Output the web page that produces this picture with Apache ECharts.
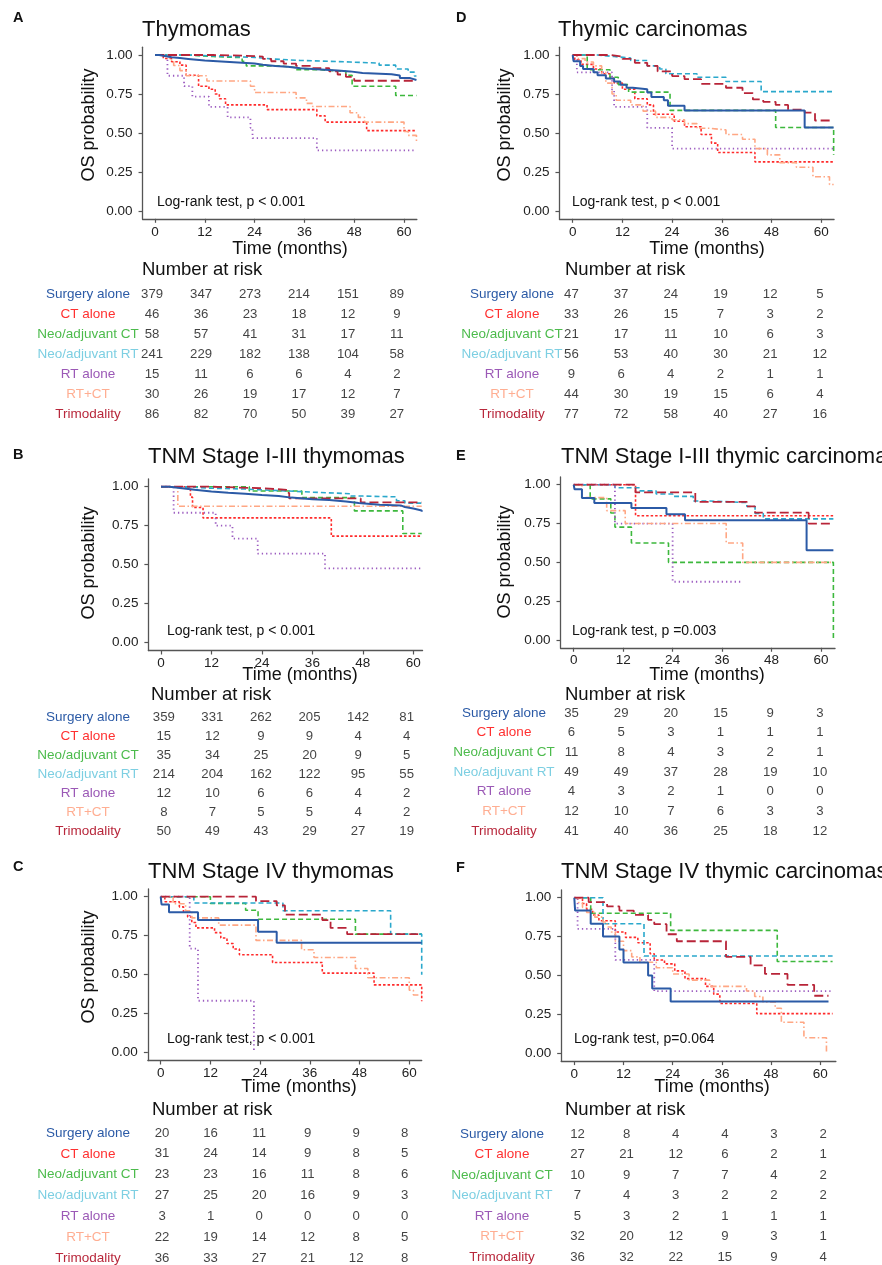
<!DOCTYPE html>
<html><head><meta charset="utf-8">
<script src="https://cdn.jsdelivr.net/npm/echarts@6/dist/echarts.min.js"></script>
<style>html,body{margin:0;padding:0;background:#fff}#c{width:882px;height:1265px}</style>
</head><body><div id="c"></div>
<script>
// ---------- data ----------
const groups = ['Surgery alone','CT alone','Neo/adjuvant CT','Neo/adjuvant RT','RT alone','RT+CT','Trimodality'];
const timeTicks = [0,12,24,36,48,60];
const probTicks = [0,0.25,0.5,0.75,1];

// Panel A: Thymomas
const A_surg = [[0,1],[1,0.995],[2,0.99],[3,0.985],[4,0.98],[6,0.975],[8,0.97],[10,0.965],[12,0.96],[15,0.955],[18,0.95],[21,0.945],[24,0.938],[26,0.93],[29,0.924],[32,0.915],[35,0.91],[38,0.905],[41,0.9],[44,0.895],[47,0.885],[50,0.877],[57,0.868],[59,0.852],[61.5,0.84],[63,0.84]];
const A_ct = [[0,1],[2,0.978],[4,0.957],[6,0.935],[7.5,0.87],[10.5,0.8],[13,0.78],[14.5,0.75],[15.5,0.72],[17,0.68],[27,0.65],[39,0.61],[41,0.57],[51,0.515],[63,0.515]];
const A_neoct = [[0,1],[8,0.99],[14,0.983],[21,0.96],[22,0.93],[30,0.92],[34,0.905],[40,0.895],[46,0.87],[47.5,0.8],[58,0.74],[63,0.74]];
const A_neort = [[0,1],[8,0.99],[18,0.985],[24,0.975],[28,0.965],[35,0.955],[47,0.948],[54,0.935],[58,0.91],[61,0.89],[62.5,0.865],[63,0.865]];
const A_rt = [[0,1],[3,0.867],[7,0.8],[9,0.733],[13,0.667],[17.5,0.6],[23,0.533],[23.5,0.467],[39,0.389],[63,0.389]];
const A_rtct = [[0,1],[3.5,0.967],[4.5,0.933],[6,0.9],[7.5,0.867],[12.5,0.833],[23,0.8],[24,0.76],[34,0.725],[36.5,0.69],[38,0.67],[47,0.63],[49,0.6],[50.5,0.57],[60,0.51],[61,0.485],[63,0.44]];
const A_tri = [[0,1],[14,0.995],[22,0.99],[26,0.975],[28,0.96],[31,0.945],[34,0.93],[38,0.915],[42,0.895],[44,0.875],[46,0.86],[48,0.835],[63,0.835]];
const riskA = [[379,347,273,214,151,89],[46,36,23,18,12,9],[58,57,41,31,17,11],[241,229,182,138,104,58],[15,11,6,6,4,2],[30,26,19,17,12,7],[86,82,70,50,39,27]];

// Panel D: Thymic carcinomas
const D_surg = [[0,1],[0.2,0.96],[1.8,0.93],[2.5,0.91],[5,0.89],[6,0.87],[8,0.85],[10,0.83],[11.5,0.81],[13,0.79],[14.5,0.78],[18,0.76],[19,0.73],[22,0.71],[23,0.675],[27,0.645],[56,0.535],[63,0.535]];
const D_ct = [[0,1],[0.5,0.97],[2,0.94],[5,0.91],[7,0.88],[9,0.85],[10,0.82],[12,0.78],[15,0.72],[18,0.68],[19.5,0.62],[24.5,0.575],[27,0.54],[31,0.49],[33.5,0.435],[35,0.375],[44,0.315],[63,0.315]];
const D_neoct = [[0,1],[3.5,0.905],[9,0.857],[11,0.81],[13.5,0.762],[23.5,0.645],[49,0.535],[63,0.36]];
const D_neort = [[0,1],[6,0.99],[10,0.98],[14,0.965],[18,0.93],[21,0.91],[22.5,0.88],[30,0.857],[37,0.83],[45.5,0.765],[63,0.765]];
const D_rt = [[0,1],[1,0.889],[9.5,0.778],[10,0.667],[18,0.533],[24,0.4],[63,0.4]];
const D_rtct = [[0,1],[1,0.977],[3,0.955],[5,0.93],[7,0.89],[8,0.82],[9.5,0.75],[10.5,0.71],[14,0.68],[17,0.64],[20,0.6],[24,0.585],[27,0.56],[30,0.53],[33,0.52],[37,0.49],[41,0.46],[44,0.4],[47,0.36],[50,0.31],[54,0.28],[58,0.22],[62,0.17],[63,0.17]];
const D_tri = [[0,1],[9,0.99],[12,0.975],[15,0.95],[18,0.93],[20.5,0.895],[24,0.865],[27,0.845],[31,0.815],[37,0.79],[41,0.755],[43.5,0.715],[46,0.7],[49,0.68],[52,0.65],[56,0.63],[58.5,0.58],[63,0.58]];
const riskD = [[47,37,24,19,12,5],[33,26,15,7,3,2],[21,17,11,10,6,3],[56,53,40,30,21,12],[9,6,4,2,1,1],[44,30,19,15,6,4],[77,72,58,40,27,16]];

// Panel B: TNM Stage I-III thymomas
const B_surg = [[0,1],[2,0.99],[5,0.98],[8,0.97],[12,0.962],[16,0.955],[20,0.947],[24,0.94],[28,0.93],[31,0.92],[36,0.915],[40,0.905],[44,0.895],[47,0.885],[52,0.88],[57,0.87],[58,0.86],[60,0.848],[62,0.84]];
const B_ct = [[0,1],[7,0.933],[7.5,0.867],[10,0.8],[40.5,0.683],[62,0.683]];
const B_neoct = [[0,1],[21,0.972],[33.5,0.93],[46,0.845],[57.5,0.7],[62,0.7]];
const B_neort = [[0,1],[5,0.99],[12,0.985],[20,0.975],[28,0.965],[36,0.955],[45,0.94],[48,0.935],[56,0.91],[58,0.895],[62,0.88]];
const B_rt = [[0,1],[3,0.833],[13,0.75],[17,0.667],[23,0.571],[39,0.476],[62,0.476]];
const B_rtct = [[0,1],[4,0.875],[62,0.875]];
const B_tri = [[0,1],[12,0.99],[24,0.98],[30,0.96],[30.5,0.925],[47.5,0.9],[62,0.9]];
const riskB = [[359,331,262,205,142,81],[15,12,9,9,4,4],[35,34,25,20,9,5],[214,204,162,122,95,55],[12,10,6,6,4,2],[8,7,5,5,4,2],[50,49,43,29,27,19]];

// Panel E: TNM Stage I-III thymic carcinomas
const E_surg = [[0,1],[0.2,0.971],[2,0.914],[5,0.882],[14,0.85],[22.5,0.81],[27,0.771],[56.5,0.578],[63,0.578]];
const E_ct = [[0,1],[15,0.8],[63,0.8]];
const E_neoct = [[0,1],[4,0.909],[9,0.818],[10,0.727],[14,0.625],[23,0.5],[63,0]];
const E_neort = [[0,1],[10,0.98],[16,0.96],[20,0.94],[24,0.925],[29,0.895],[33,0.885],[42,0.86],[44,0.815],[46,0.78],[63,0.78]];
const E_rt = [[0,1],[10,0.75],[24,0.375],[41,0.375]];
const E_rtct = [[0,1],[2,0.917],[8,0.833],[12.5,0.75],[37,0.625],[41,0.5],[63,0.5]];
const E_tri = [[0,1],[15,0.951],[29.5,0.89],[42,0.86],[44,0.82],[57,0.75],[63,0.75]];
const riskE = [[35,29,20,15,9,3],[6,5,3,1,1,1],[11,8,4,3,2,1],[49,49,37,28,19,10],[4,3,2,1,0,0],[12,10,7,6,3,3],[41,40,36,25,18,12]];

// Panel C: TNM Stage IV thymomas
const C_surg = [[0,1],[0.2,0.95],[2,0.9],[9,0.85],[23.5,0.775],[28,0.705],[63,0.705]];
const C_ct = [[0,1],[1,0.968],[4.5,0.935],[5.5,0.9],[6.5,0.87],[7.5,0.835],[8.5,0.8],[13,0.77],[14.5,0.735],[16,0.7],[17.5,0.665],[19,0.628],[27,0.578],[39,0.51],[51.5,0.435],[63,0.33]];
const C_neoct = [[0,1],[12,0.957],[20.5,0.913],[23.5,0.855],[47,0.76],[63,0.76]];
const C_neort = [[0,1],[8,0.96],[29.5,0.91],[55.5,0.76],[63,0.5]];
const C_rt = [[0,1],[7,0.667],[9,0.333],[22.5,0]];
const C_rtct = [[0,1],[3,0.955],[6,0.909],[7.5,0.864],[14,0.818],[23,0.72],[34,0.66],[37,0.61],[47,0.54],[50,0.48],[60,0.4],[61,0.37],[63,0.37]];
const C_tri = [[0,1],[23,0.972],[28,0.944],[30,0.885],[39,0.85],[41,0.8],[45,0.76],[63,0.76]];
const riskC = [[20,16,11,9,9,8],[31,24,14,9,8,5],[23,23,16,11,8,6],[27,25,20,16,9,3],[3,1,0,0,0,0],[22,19,14,12,8,5],[36,33,27,21,12,8]];

// Panel F: TNM Stage IV thymic carcinomas
const F_surg = [[0,1],[0.2,0.917],[4,0.833],[7,0.75],[11,0.667],[12,0.583],[18,0.5],[19,0.417],[23.5,0.333],[62,0.333]];
const F_ct = [[0,1],[2,0.963],[3,0.926],[4.5,0.889],[6,0.852],[10,0.78],[12.5,0.745],[15.5,0.71],[18.5,0.64],[19.5,0.6],[22,0.575],[24.5,0.53],[27,0.48],[32,0.43],[34,0.38],[35.5,0.32],[44.5,0.255],[63,0.255]];
const F_neoct = [[0,1],[4,0.9],[23.5,0.79],[49.5,0.59],[63,0.59]];
const F_neort = [[0,1],[7,0.833],[17,0.625],[63,0.625]];
const F_rt = [[0,1],[0.8,0.8],[10,0.6],[19.5,0.4],[63,0.4]];
const F_rtct = [[0,1],[1,0.969],[2,0.938],[3,0.906],[5,0.875],[7,0.844],[8,0.812],[9,0.78],[10,0.72],[12,0.66],[14,0.62],[16,0.585],[20,0.55],[24,0.51],[28,0.47],[33,0.43],[42,0.4],[44,0.365],[46,0.33],[49,0.29],[50.5,0.2],[56,0.1],[61.5,0]];
const F_tri = [[0,1],[3.5,0.972],[8,0.944],[11,0.917],[14.5,0.889],[18,0.858],[19.5,0.83],[22.5,0.765],[25,0.72],[37,0.62],[43,0.565],[46.5,0.51],[52,0.44],[58.5,0.37],[62,0.37]];
const riskF = [[12,8,4,4,3,2],[27,21,12,6,2,1],[10,9,7,7,4,2],[7,4,3,2,2,2],[5,3,2,1,1,1],[32,20,12,9,3,1],[36,32,22,15,9,4]];

const titles = ['Thymomas','Thymic carcinomas','TNM Stage I-III thymomas','TNM Stage I-III thymic carcinomas','TNM Stage IV thymomas','TNM Stage IV thymic carcinomas'];
const letters = ['A','D','B','E','C','F'];
const pvals = ['Log-rank test, p < 0.001','Log-rank test, p < 0.001','Log-rank test, p < 0.001','Log-rank test, p =0.003','Log-rank test, p < 0.001','Log-rank test, p=0.064'];

// ---------- styles / layout ----------
const FONT = '"Liberation Sans", Arial, Helvetica, sans-serif';
const lineColors = ['#2b5aa6','#ff2b2b','#3db83d','#2aa8cc','#9c5cc0','#ffa784','#b82438'];
const labelColors = ['#2b5aa6','#ff3030','#4cbb4c','#7dcfe2','#9b59b6','#ffae92','#b8283c'];
const dashes = ['solid',[2.5,2],[5,3],[5,3],[1.3,3],[6,2.5,1.5,2.5],[9,4]];
const widths = [2,1.6,1.6,1.6,1.8,1.6,1.8];
const LABEL_W = 112;
const rich = {};
labelColors.forEach((c, q) => { rich['g' + q] = {color:c, width:LABEL_W, align:'center', fontSize:13.5, fontFamily:FONT}; });

const panels = [
  {curves:[A_surg,A_ct,A_neoct,A_neort,A_rt,A_rtct,A_tri], risk:riskA,
   km:{x0:155,ppm:4.15,xmin:-3,xmax:63.1,y1:55,y0:211},
   rk:{x0:152.1,ppm:4.079,row0:294,step:20,labelX:88,L:140,R:420},
   letter:[13,18], title:[142,30], p:[157,202], time:[290,249], nar:[142,270], os:[89.5,125]},
  {curves:[D_surg,D_ct,D_neoct,D_neort,D_rt,D_rtct,D_tri], risk:riskD,
   km:{x0:572.7,ppm:4.142,xmin:-3.2,xmax:63.1,y1:55,y0:211},
   rk:{x0:571.4,ppm:4.141,row0:294,step:20,labelX:512,L:556,R:836},
   letter:[456,18], title:[558,30], p:[572,202], time:[707,249], nar:[565,270], os:[505.5,125]},
  {curves:[B_surg,B_ct,B_neoct,B_neort,B_rt,B_rtct,B_tri], risk:riskB,
   km:{x0:161,ppm:4.205,xmin:-3,xmax:62.2,y1:486.7,y0:642.7},
   rk:{x0:163.8,ppm:4.048,row0:717,step:19,labelX:88,L:140,R:420},
   letter:[13,455], title:[148,457], p:[167,631], time:[300,675], nar:[151,695], os:[89.5,563]},
  {curves:[E_surg,E_ct,E_neoct,E_neort,E_rt,E_rtct,E_tri], risk:riskE,
   km:{x0:573.7,ppm:4.122,xmin:-3.2,xmax:63.4,y1:484.7,y0:640},
   rk:{x0:571.5,ppm:4.14,row0:713,step:19.67,labelX:504,L:556,R:836},
   letter:[456,456], title:[561,457], p:[572,631], time:[707,675], nar:[565,695], os:[505.5,562]},
  {curves:[C_surg,C_ct,C_neoct,C_neort,C_rt,C_rtct,C_tri], risk:riskC,
   km:{x0:160.7,ppm:4.143,xmin:-3.1,xmax:63.0,y1:896.7,y0:1052.7},
   rk:{x0:162.1,ppm:4.043,row0:1133,step:20.83,labelX:88,L:140,R:420},
   letter:[13,867], title:[148,871.5], p:[167,1039], time:[299,1087], nar:[152,1110], os:[89.5,967]},
  {curves:[F_surg,F_ct,F_neoct,F_neort,F_rt,F_rtct,F_tri], risk:riskF,
   km:{x0:574.3,ppm:4.1,xmin:-3.2,xmax:63.8,y1:897.7,y0:1053.3},
   rk:{x0:577.5,ppm:4.093,row0:1134,step:20.5,labelX:502,L:556,R:836},
   letter:[456,868], title:[561,871.5], p:[574,1039], time:[712,1087], nar:[565,1110], os:null}
];

const grid = [], xAxis = [], yAxis = [], series = [], graphic = [];
const axisColor = '#555';

function txt(text, x, y, size, o) {
  o = o || {};
  const el = {type:'text', x:x, y:y, silent:true, z:100,
    style:{text:text, font:(o.weight||'normal')+' '+size+'px '+FONT, fill:o.color||'#111',
      textAlign:o.align||'left', align:o.align||'left',
      textVerticalAlign:'middle', verticalAlign:'middle'}};
  if (o.rotation) el.rotation = o.rotation;
  return el;
}

panels.forEach((p, i) => {
  const k = p.km, h = k.y0 - k.y1;
  const gi = grid.length;
  grid.push({left:k.x0 + k.xmin*k.ppm, width:(k.xmax-k.xmin)*k.ppm, top:k.y1 - 0.05*h, height:1.1*h,
    containLabel:false, outerBoundsMode:'none'});
  xAxis.push({gridIndex:gi, type:'value', min:k.xmin, max:k.xmax,
    axisLine:{show:true, onZero:false, lineStyle:{color:axisColor, width:1.3}},
    axisTick:{show:true, length:4, customValues:timeTicks, lineStyle:{color:axisColor, width:1.2}},
    axisLabel:{customValues:timeTicks, fontSize:13.5, color:'#222', margin:6, fontFamily:FONT},
    splitLine:{show:false}});
  yAxis.push({gridIndex:gi, type:'value', min:-0.05, max:1.05,
    axisLine:{show:true, onZero:false, lineStyle:{color:axisColor, width:1.3}},
    axisTick:{show:true, length:4, customValues:probTicks, lineStyle:{color:axisColor, width:1.2}},
    axisLabel:{customValues:probTicks, fontSize:13.5, color:'#222', margin:10, fontFamily:FONT,
      formatter:v => Number(v).toFixed(2)},
    splitLine:{show:false}});
  p.curves.forEach((c, j) => {
    series.push({type:'line', xAxisIndex:gi, yAxisIndex:gi, data:c, step:'end',
      showSymbol:false, symbol:'none', silent:true, z: j===0 ? 10 : 3+j,
      lineStyle:{color:lineColors[j], width:widths[j], type:dashes[j]}});
  });

  // risk table
  const r = p.rk;
  const ri = grid.length;
  grid.push({left:r.L, width:r.R-r.L, top:r.row0 - r.step/2, height:7*r.step,
    containLabel:false, outerBoundsMode:'none'});
  xAxis.push({gridIndex:ri, type:'value', show:false,
    min:(r.L - r.x0)/r.ppm, max:(r.R - r.x0)/r.ppm});
  yAxis.push({gridIndex:ri, type:'category', inverse:true, data:groups,
    axisLine:{show:false}, axisTick:{show:false}, splitLine:{show:false},
    axisLabel:{interval:0, margin:r.L - (r.labelX + LABEL_W/2), rich:rich,
      formatter:(v) => '{g' + groups.indexOf(v) + '|' + v + '}'}});
  const pts = [];
  p.risk.forEach((row, q) => row.forEach((n, t) => pts.push([timeTicks[t], q, n])));
  series.push({type:'scatter', xAxisIndex:ri, yAxisIndex:ri, data:pts, symbolSize:1, silent:true,
    itemStyle:{color:'rgba(0,0,0,0)'},
    label:{show:true, position:'inside', formatter:d => String(d.value[2]), color:'#111',
      fontSize:13.2, fontFamily:FONT}});

  // texts
  graphic.push(txt(letters[i], p.letter[0], p.letter[1], 14.5, {weight:'bold'}));
  graphic.push(txt(titles[i], p.title[0], p.title[1], 22));
  graphic.push(txt(pvals[i], p.p[0], p.p[1], 14));
  graphic.push(txt('Time (months)', p.time[0], p.time[1], 18, {align:'center'}));
  graphic.push(txt('Number at risk', p.nar[0], p.nar[1], 18.5));
  if (p.os) graphic.push(txt('OS probability', p.os[0], p.os[1], 18, {align:'center', rotation:Math.PI/2}));
});

const chart = echarts.init(document.getElementById('c'), null, {renderer:'canvas'});
chart.setOption({animation:false, backgroundColor:'#fff', grid, xAxis, yAxis, series, graphic});
</script></body></html>
